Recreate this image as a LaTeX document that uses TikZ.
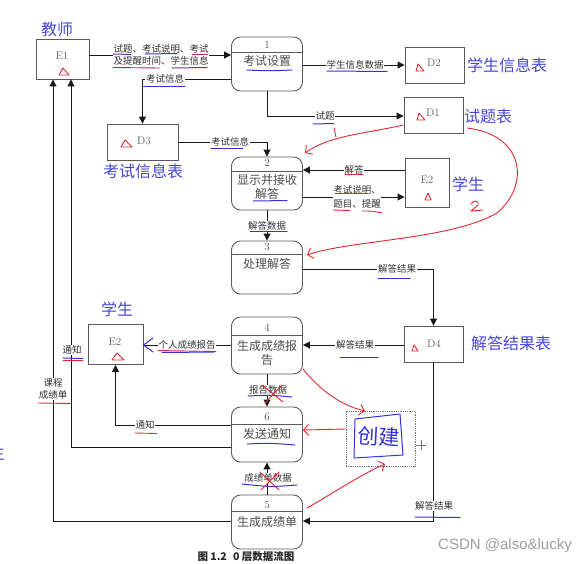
\documentclass[tikz,border=0pt]{standalone}
\usepackage{fontspec}
\newfontfamily\cjk{Noto Sans CJK SC}
\newfontfamily\wm{Liberation Sans}
\usetikzlibrary{arrows.meta,calc}
\definecolor{bluelab}{RGB}{70,70,215}
\definecolor{penred}{RGB}{225,40,50}
\definecolor{penblue}{RGB}{50,50,220}
\begin{document}
\begin{tikzpicture}[x=1pt,y=-1pt,
  ent/.style={draw=black!65, line width=0.9pt, inner sep=0pt},
  proc/.style={draw=black!65, line width=0.9pt, rounded corners=9pt, minimum width=71pt, inner sep=0pt},
  flow/.style={draw=black!90, line width=1pt, -{Triangle[length=7pt,width=7pt]}},
  plain/.style={draw=black!90, line width=1pt},
  lbl/.style={font=\cjk\fontsize{9.5}{12.5}\selectfont, text=black!80, fill=white, inner sep=0.6pt, align=center},
  ptext/.style={font=\cjk\fontsize{12}{14}\selectfont, text=black!70},
  pnum/.style={font=\fontsize{11}{12}\selectfont, text=black!70},
  idtext/.style={font=\fontsize{11}{12}\selectfont, text=black!65},
  blab/.style={font=\cjk\fontsize{16}{18}\selectfont, text=bluelab},
  redpen/.style={draw=penred, line width=0.9pt, line cap=round, line join=round},
  bluepen/.style={draw=penblue, line width=1pt, line cap=round, line join=round},
  redarrow/.style={redpen, -{Straight Barb[length=5pt,width=11pt]}},
]
\useasboundingbox (0,0) rectangle (588,563);

% ---------- entities and stores ----------
\node[ent, minimum width=53pt, minimum height=40pt] (E1) at (62.5,59) {};
\node[idtext] (E1id) at (62,56) {E1};
\draw[redpen, shift={(64,72)}] (-5,3) -- (-1,-4) -- (5,3) -- cycle;

\node[ent, minimum width=59pt, minimum height=36pt] (D2) at (434.5,65) {};
\node[idtext] (D2id) at (434,63) {D2};
\draw[redpen, shift={(420,68)}] (-4,3) -- (-2,-4) -- (4,3) -- cycle;

\node[ent, minimum width=59pt, minimum height=36pt] (D1) at (433.5,115) {};
\node[idtext] (D1id) at (433,113) {D1};
\draw[redpen, shift={(421,117)}] (-4,3) -- (-2,-4) -- (4,3) -- cycle;

\node[ent, minimum width=71pt, minimum height=36pt] (D3) at (142.5,142) {};
\node[idtext] (D3id) at (144,141) {D3};
\draw[redpen, shift={(127,144)}] (-6,3) -- (-2,-4) -- (5,3) -- cycle;

\node[ent, minimum width=59pt, minimum height=36pt] (D4) at (433.5,344) {};
\node[idtext] (D4id) at (434,344) {D4};
\draw[redpen, shift={(415,348)}] (-3,3) -- (-1,-3) -- (3,3) -- cycle;

\node[ent, minimum width=44pt, minimum height=49pt] (E2r) at (427,182.5) {};
\node[idtext] (E2rid) at (427,180) {E2};
\draw[redpen, shift={(428,197)}] (-3,3) -- (0,-4) -- (3,3) -- cycle;

\node[ent, minimum width=55pt, minimum height=40pt] (E2l) at (115.5,344.5) {};
\node[idtext] (E2lid) at (115,342) {E2};
\draw[redpen, shift={(118,357)}] (-6,3) -- (-1,-4) -- (6,3) -- cycle;

% ---------- processes ----------
\node[proc, minimum height=54pt] (P1) at (267,64) {};
\draw[draw=black!65, line width=0.8pt] (P1.west |- 0,52) -- (P1.east |- 0,52);
\node[pnum] (P1n) at (267,45) {1};
\node[ptext] (P1t) at (267,61) {考试设置};

\node[proc, minimum height=53pt] (P2) at (267,183.5) {};
\draw[draw=black!65, line width=0.8pt] (P2.west |- 0,171) -- (P2.east |- 0,171);
\node[pnum] (P2n) at (267,163) {2};
\node[ptext, align=center, font=\cjk\fontsize{12}{14.5}\selectfont] (P2t) at (267,187) {显示并接收\\解答};

\node[proc, minimum height=53pt] (P3) at (267,267.5) {};
\draw[draw=black!65, line width=0.8pt] (P3.west |- 0,254) -- (P3.east |- 0,254);
\node[pnum] (P3n) at (267,247) {3};
\node[ptext] (P3t) at (267,264) {处理解答};

\node[proc, minimum height=57pt] (P4) at (267,345.5) {};
\draw[draw=black!65, line width=0.8pt] (P4.west |- 0,335) -- (P4.east |- 0,335);
\node[pnum] (P4n) at (267,328) {4};
\node[ptext, align=center, font=\cjk\fontsize{12}{14.5}\selectfont] (P4t) at (267,353) {生成成绩报\\告};

\node[proc, minimum height=55pt] (P6) at (267,434.5) {};
\draw[draw=black!65, line width=0.8pt] (P6.west |- 0,424) -- (P6.east |- 0,424);
\node[pnum] (P6n) at (267,417) {6};
\node[ptext] (P6t) at (267,434) {发送通知};

\node[proc, minimum height=54pt] (P5) at (267,522) {};
\draw[draw=black!65, line width=0.8pt] (P5.west |- 0,511) -- (P5.east |- 0,511);
\node[pnum] (P5n) at (267,505) {5};
\node[ptext] (P5t) at (267,522) {生成成绩单};

% ---------- connectors ----------
\draw[flow] (E1.east |- 0,55) -- (P1.west |- 0,55);
\node[lbl] (L1) at (161,55) {试题、考试说明、考试\\及提醒时间、学生信息};

\draw[flow] (P1.west |- 0,79) -| (D3.north);
\node[lbl] (L2) at (165,79) {考试信息};

\draw[flow] (P1.east |- 0,65) -- (D2.west |- 0,65);
\node[lbl] (L3) at (355,65) {学生信息数据};

\draw[flow] (P1.south) |- (D1.west |- 0,116);
\node[lbl] (L4) at (325,116) {试题};

\draw[flow] (D3.east |- 0,142) -| (P2.north);
\node[lbl] (L5) at (230,142) {考试信息};

\draw[flow] (E2r.west |- 0,170) -- (P2.east |- 0,170);
\node[lbl] (L6) at (354,170) {解答};

\draw[flow] (P2.east |- 0,197) -- (E2r.west |- 0,197);
\node[lbl, font=\cjk\fontsize{9.5}{13.5}\selectfont] (L7) at (357,197) {考试说明、\\题目、提醒};

\draw[flow] (P2.south) -- (P3.north);
\node[lbl] (L8) at (267,226) {解答数据};

\draw[flow] (P3.east |- 0,269) -| (D4.north);
\node[lbl] (L9) at (397,269) {解答结果};

\draw[flow] (D4.west |- 0,345) -- (P4.east |- 0,345);
\node[lbl] (L10) at (355,345) {解答结果};

\draw[plain] (P4.west |- 0,345) -- (E2l.east |- 0,345);
\draw[bluepen] (153,338) -- (143.5,345) -- (153,352);
\node[lbl] (L11) at (187,345) {个人成绩报告};

\draw[flow] (P4.south) -- (P6.north);
\node[lbl] (L12) at (268,390) {报告数据};

\draw[flow] (P6.west |- 0,425) -| (E2l.south);
\node[lbl] (L13) at (145,425) {通知};

\draw[flow] (P6.west |- 0,447) -| (E1.south -| 71,0);
\node[lbl] (L14) at (72,350) {通知};

\draw[flow] (P5.west |- 0,521) -| (E1.south -| 53,0);
\node[lbl] (L15) at (53,389) {课程\\成绩单};

\draw[flow] (P5.north) -- (P6.south);
\node[lbl] (L16) at (268,478) {成绩单数据};

\draw[flow] (D4.south) |- (P5.east |- 0,521);
\node[lbl] (L17) at (434,506) {解答结果};

% ---------- hand-drawn underlines ----------
\draw[bluepen, draw=penblue!70!penred] (113,54) -- (131,54.5);
\draw[bluepen] (145,54) -- (177,53.5);
\draw[redpen, draw=penred!70!penblue] (192,54) -- (208,54);
\draw[redpen, draw=penred!60!penblue] (113,67.5) -- (160,68);
\draw[bluepen, draw=penblue!60!penred] (172,68) -- (207,67.5);
\draw[bluepen] (247,70) .. controls (270,71) .. (292,70);
\draw[bluepen] (327,71) -- (387,71.5);
\draw[bluepen] (313,124) -- (334,123.5);
\draw[bluepen] (143,86) -- (185,86);
\draw[bluepen] (211,148) -- (243,148);
\draw[redpen] (345,174) -- (363,174);
\draw[redpen] (335,193) -- (368,193);
\draw[redpen] (333,210) -- (350,210.5);
\draw[redpen] (362,211) .. controls (372,211) .. (382,213);
\draw[bluepen] (253,201) -- (287,200.5);
\draw[bluepen] (250,231) -- (287,231);
\draw[bluepen] (378,278) -- (410,278);
\draw[bluepen] (340,357) -- (378,357);
\draw[redpen] (158,350.5) -- (216,351.5);
\draw[bluepen] (162,352.5) -- (214,352);
\draw[bluepen] (248,396) .. controls (270,395) .. (292,397);
\draw[bluepen] (247,444) .. controls (270,443) .. (295,445);
\draw[redpen] (135,433) -- (157,433.5);
\draw[bluepen] (63,358) -- (83,358.5);
\draw[redpen] (63,360) -- (83,360);
\draw[redpen] (38,403) -- (71,403.5);
\draw[bluepen] (242,484) .. controls (270,487) .. (297,485);
\draw[bluepen] (415,517) -- (460,517.5);

% red crosses
\draw[redpen] (262,385) -- (283,402);
\draw[redpen] (282,385) -- (265,403);
\draw[redpen] (260,472) -- (279,490);
\draw[redpen] (279,472) -- (261,490);

% ---------- "create" box ----------
\node[draw=black!55, densely dotted, line width=0.8pt, minimum width=69pt, minimum height=55pt, inner sep=0pt] (CR) at (380.5,438.5) {};
\draw[bluepen] (355,419) -- (400,414) -- (403,455) -- (354,458) -- cycle;
\node[font=\cjk\fontsize{21}{22}\selectfont, text=penblue, rotate=-3] (CRt) at (379,437) {创建};
\draw[draw=black!55, line width=0.7pt] (416,445) -- (426,445) (421,440) -- (421,450);

% ---------- red hand-drawn arrows ----------
\draw[redarrow] (403,125) .. controls (370,133) and (330,135) .. (305,153);
\draw[redpen] (334,128) -- (336,137);
\draw[redarrow] (467,128) .. controls (525,135) and (530,185) .. (497,213) .. controls (450,240) and (350,240) .. (307,255);
\draw[redpen] (471,204) .. controls (473,200) and (480,200) .. (478,205) -- (471,211) -- (483,210);
\draw[redarrow] (303,369) .. controls (320,390) and (340,405) .. (365,411);
\draw[redarrow] (CR.west |- 0,429) -- (P6.east |- 0,430);
\draw[redarrow] (307,508) .. controls (330,495) and (360,475) .. (385,464);

% ---------- blue labels ----------
\node[blab] (Bt) at (57,29) {教师};
\node[blab] (Bd2) at (507,65) {学生信息表};
\node[blab] (Bd1) at (488,116) {试题表};
\node[blab] (Bd3) at (143,171) {考试信息表};
\node[blab] (Be2r) at (468,184) {学生};
\node[blab] (Be2l) at (117,309) {学生};
\node[blab] (Bd4) at (511,343) {解答结果表};
\node[blab] (Bcut) at (-3,453) {生};

% ---------- caption and watermark ----------
\node[font=\cjk\bfseries\fontsize{10.5}{11}\selectfont, text=black!85, inner sep=0pt] (cap) at (246,556.5) {图 1.2\hspace{0.6em}0 层数据流图};
\node[font=\wm\fontsize{15}{16}\selectfont, text=black!38] (wmk) at (505,546) {CSDN @also\&lucky};
\end{tikzpicture}
\end{document}
